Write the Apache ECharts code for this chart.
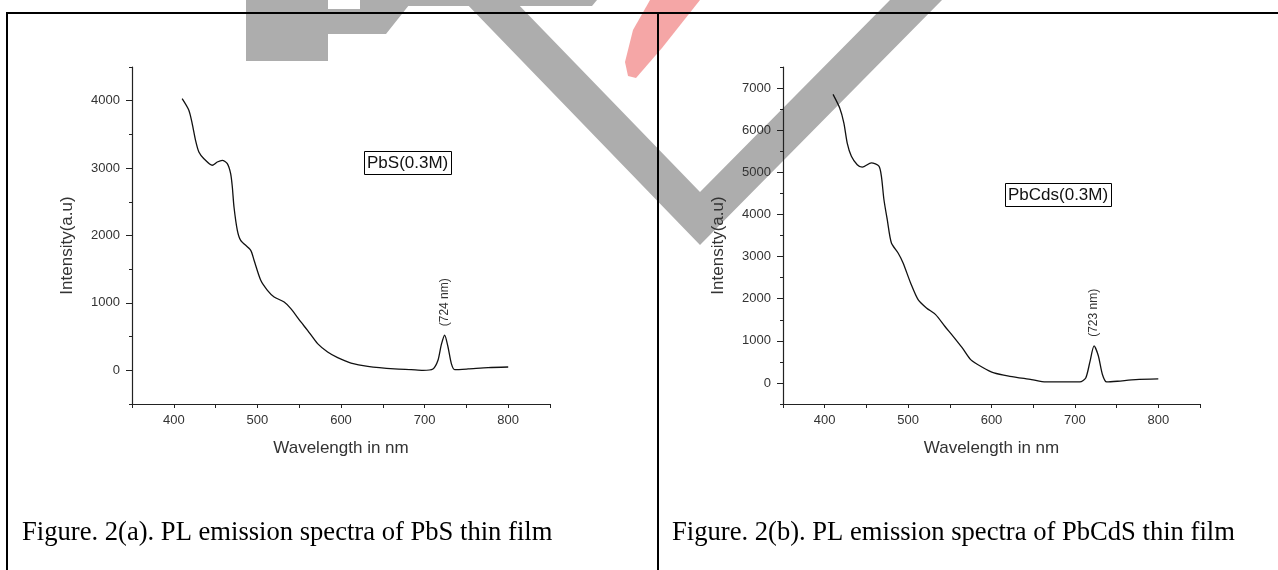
<!DOCTYPE html>
<html>
<head>
<meta charset="utf-8">
<script src="https://cdn.jsdelivr.net/npm/echarts@6/dist/echarts.min.js"></script>
<style>
  html, body { margin: 0; padding: 0; background: #fff; }
  #content { width: 1278px; height: 570px; }
</style>
</head>
<body>
<div id="content"></div>
<script>
// PbS (0.3M) emission spectrum
const pbsWave = [410, 418, 422, 426, 430, 436, 446, 452, 458, 464, 468, 470, 472, 476, 480, 492, 496, 504, 512, 520, 532, 540, 552, 560, 572, 584, 596, 612, 632, 664, 684, 698, 710, 716, 720, 724, 728, 732, 736, 752, 776, 800];
const pbsInt = [4030, 3858, 3660, 3412, 3239, 3140, 3042, 3090, 3116, 3066, 2918, 2720, 2423, 2077, 1929, 1780, 1632, 1335, 1187, 1088, 1013, 915, 717, 593, 396, 272, 188, 108, 59, 20, 10, 0, 20, 148, 380, 520, 346, 99, 10, 20, 40, 49];

// PbCdS (0.3M) emission spectrum, right panel
const cdsWave = [410, 418, 423, 427, 432, 439, 445, 456, 465, 468, 471, 475, 480, 488, 494, 503, 512, 522, 533, 544, 554, 565, 575, 589, 603, 622, 648, 665, 706, 713, 718, 723, 728, 733, 738, 751, 773, 800];
const cdsInt = [6850, 6526, 6170, 5695, 5379, 5181, 5121, 5226, 5145, 4904, 4354, 3876, 3322, 3085, 2848, 2373, 1978, 1780, 1622, 1345, 1107, 831, 554, 372, 237, 158, 79, 24, 24, 119, 500, 880, 650, 200, 24, 40, 79, 95];

const pbsTicks = [0, 1000, 2000, 3000, 4000];
const cdsTicks = [0, 1000, 2000, 3000, 4000, 5000, 6000, 7000];
const xLabels = [400, 500, 600, 700, 800];

const legendA = 'PbS(0.3M)';
const legendB = 'PbCds(0.3M)';
const captionA = 'Figure. 2(a). PL emission spectra of PbS thin film';
const captionB = 'Figure. 2(b). PL emission spectra of PbCdS thin film';

const sans = 'Liberation Sans, Arial, sans-serif';
const serif = 'Liberation Serif, Times New Roman, serif';

function pairs(xs, ys) {
  return xs.map((x, i) => [x, ys[i]]);
}

// peak past 700 nm, taken from the data
function peakOf(xs, ys) {
  let best = -1;
  xs.forEach((x, i) => {
    if (x > 700 && (best < 0 || ys[i] > ys[best])) best = i;
  });
  return [xs[best], ys[best]];
}

function xAxisFor(gridIndex) {
  return {
    type: 'value', gridIndex, min: 350, max: 850, interval: 50,
    name: 'Wavelength in nm', nameLocation: 'middle', nameGap: 36,
    nameTextStyle: { fontFamily: sans, fontSize: 17, color: '#333' },
    axisLine: { onZero: false, lineStyle: { color: '#222', width: 1.2 } },
    axisTick: { length: 4, lineStyle: { color: '#222' } },
    axisLabel: {
      margin: 10, fontFamily: sans, fontSize: 13, color: '#333',
      formatter: v => (xLabels.indexOf(v) >= 0 ? String(v) : '')
    },
    splitLine: { show: false }
  };
}

function yAxesFor(gridIndex, max, ticks) {
  return [{
    type: 'value', gridIndex, min: -500, max, interval: 500, position: 'left',
    name: 'Intensity(a.u)', nameLocation: 'middle', nameGap: 56, nameRotate: 90,
    nameTextStyle: { fontFamily: sans, fontSize: 17, color: '#333', padding: [0, 20, 0, 0] },
    axisLine: { onZero: false, lineStyle: { color: '#222', width: 1.2 } },
    axisTick: { customValues: ticks, length: 6, lineStyle: { color: '#222' } },
    axisLabel: {
      customValues: ticks, margin: 12, fontFamily: sans, fontSize: 13, color: '#333',
      formatter: v => String(v)
    },
    splitLine: { show: false }
  }, {
    type: 'value', gridIndex, min: -500, max, interval: 500, position: 'left',
    axisLine: { show: false },
    axisTick: { length: 3, lineStyle: { color: '#222' } },
    axisLabel: { show: false },
    splitLine: { show: false }
  }];
}

function seriesFor(axisIndex, yIndex, xs, ys, note) {
  return {
    type: 'line', xAxisIndex: axisIndex, yAxisIndex: yIndex,
    data: pairs(xs, ys), showSymbol: false, smooth: 0.25,
    lineStyle: { color: '#111', width: 1.3 },
    markPoint: {
      symbol: 'circle', symbolSize: 0, silent: true,
      label: {
        show: true, formatter: '{b}', position: 'top', distance: 9,
        rotate: 90, align: 'left', verticalAlign: 'middle',
        fontFamily: sans, fontSize: 12, color: '#333'
      },
      data: [{ name: note, coord: peakOf(xs, ys) }]
    }
  };
}

const chart = echarts.init(document.getElementById('content'));

const boxStyle = { fontFamily: sans, fontSize: 17, fontWeight: 'normal', color: '#111', lineHeight: 19 };
const capStyle = { fontFamily: serif, fontSize: 26.6, fontWeight: 'normal', color: '#000' };
const grey = '#adadad';

const option = {
  backgroundColor: '#fff',
  animation: false,
  title: [
    { text: legendA, left: 364, top: 151, borderColor: '#000', borderWidth: 1, padding: [3, 4, 2, 3], textStyle: boxStyle },
    { text: legendB, left: 1005, top: 183, borderColor: '#000', borderWidth: 1, padding: [3, 4, 2, 3], textStyle: boxStyle },
    { text: captionA, left: 22, top: 520, padding: 0, textStyle: capStyle },
    { text: captionB, left: 672, top: 520, padding: 0, textStyle: capStyle }
  ],
  grid: [
    { left: 132, top: 67, width: 418, height: 337 },
    { left: 783, top: 67, width: 417, height: 337 }
  ],
  xAxis: [xAxisFor(0), xAxisFor(1)],
  yAxis: yAxesFor(0, 4500, pbsTicks).concat(yAxesFor(1, 7500, cdsTicks)),
  series: [
    seriesFor(0, 0, pbsWave, pbsInt, '(724 nm)'),
    seriesFor(1, 2, cdsWave, cdsInt, '(723 nm)')
  ],
  graphic: [
    // watermark behind the plot
    { type: 'polygon', z: -10, shape: { points: [[246, 0], [328, 0], [328, 61], [246, 61]] }, style: { fill: grey } },
    { type: 'polygon', z: -10, shape: { points: [[328, 9], [360, 9], [360, 0], [413, 0], [386, 34], [328, 34]] }, style: { fill: grey } },
    { type: 'polygon', z: -10, shape: { points: [[360, 0], [597, 0], [592, 6], [362, 6]] }, style: { fill: grey } },
    { type: 'polygon', z: -10, shape: { points: [[463, 0], [514, 0], [700, 192], [890, 0], [942, 0], [700, 245]] }, style: { fill: grey } },
    { type: 'polygon', z: -10, shape: { points: [[650, 0], [700, 0], [662, 48], [636, 78], [628, 76], [625, 62], [633, 30]] }, style: { fill: '#f5a6a6' } },
    // page frame and divider on top
    { type: 'rect', zlevel: 1, shape: { x: 7, y: 13, width: 1290, height: 600 }, style: { fill: 'none', stroke: '#000', lineWidth: 2 } },
    { type: 'line', zlevel: 1, shape: { x1: 658, y1: 13, x2: 658, y2: 570 }, style: { stroke: '#000', lineWidth: 2 } }
  ]
};

chart.setOption(option);
</script>
</body>
</html>
